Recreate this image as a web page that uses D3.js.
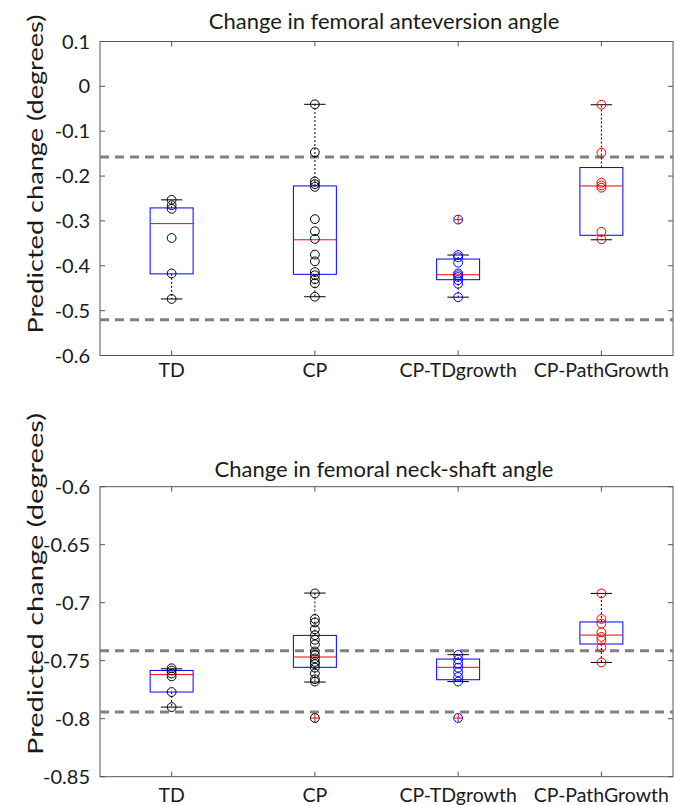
<!DOCTYPE html>
<html>
<head>
<meta charset="utf-8">
<script src="https://cdn.jsdelivr.net/npm/d3@7"></script>
<style>
  body { margin: 0; background: #fff; }
  svg { display: block; font-family: Lato, "Open Sans", sans-serif; }
</style>
</head>
<body>
<svg id="chart" width="675" height="805"></svg>
<script>
// categories
const categories = ["TD", "CP", "CP-TDgrowth", "CP-PathGrowth"];
const groupColors = ["#000000", "#000000", "#0000ff", "#ff0000"];

// --- femoral anteversion (top) ---
const antTD = [-0.253, -0.265, -0.273, -0.338, -0.417, -0.474];
const antCP = [-0.040, -0.147, -0.212, -0.218, -0.224, -0.296, -0.323, -0.340,
               -0.375, -0.390, -0.414, -0.421, -0.430, -0.439, -0.469];
const antTDg = [-0.297, -0.376, -0.381, -0.393, -0.417, -0.421, -0.425, -0.432, -0.440, -0.470];
const antPath = [-0.041, -0.148, -0.215, -0.221, -0.226, -0.324, -0.341];
const antQ1 = [-0.418, -0.419, -0.431, -0.332];
const antMed = [-0.306, -0.342, -0.420, -0.222];
const antQ3 = [-0.271, -0.222, -0.385, -0.181];
const antWhLo = [-0.474, -0.469, -0.470, -0.342];
const antWhHi = [-0.253, -0.040, -0.376, -0.041];
const antOutliers = [[], [], [-0.297], []];
const antRefLines = [-0.1576, -0.5205];
const antTicks = [0.1, 0, -0.1, -0.2, -0.3, -0.4, -0.5, -0.6];

// --- femoral neck-shaft (bottom) ---
const nsaTD = [-0.7565, -0.7585, -0.761, -0.7635, -0.777, -0.790];
const nsaCP = [-0.692, -0.714, -0.717, -0.723, -0.728, -0.732, -0.736, -0.742, -0.745,
               -0.748, -0.751, -0.753, -0.756, -0.761, -0.766, -0.768, -0.7994];
const nsaTDg = [-0.745, -0.749, -0.7525, -0.756, -0.760, -0.764, -0.768, -0.7994];
const nsaPath = [-0.692, -0.714, -0.718, -0.7255, -0.7295, -0.7325, -0.7385, -0.7515];
const nsaQ1 = [-0.777, -0.7557, -0.7664, -0.7356];
const nsaMed = [-0.762, -0.7468, -0.7557, -0.7279];
const nsaQ3 = [-0.7584, -0.7282, -0.7486, -0.7166];
const nsaWhLo = [-0.790, -0.7684, -0.768, -0.7515];
const nsaWhHi = [-0.757, -0.6917, -0.7448, -0.692];
const nsaOutliers = [[], [-0.7994], [-0.7994], []];
const nsaRefLines = [-0.7414, -0.7942];
const nsaTicks = [-0.6, -0.65, -0.7, -0.75, -0.8, -0.85];

const svg = d3.select("#chart");
const axisColor = "#555";
const textColor = "#1a1a1a";

function drawPanel(opt) {
  const g = svg.append("g");
  const x = d3.scaleLinear().domain([0.5, 4.5]).range([100, 673]);
  const y = d3.scaleLinear().domain(opt.domain).range(opt.range);
  const top = opt.range[1], bottom = opt.range[0];

  // title
  g.append("text")
    .attr("x", 384).attr("y", opt.titleY)
    .attr("text-anchor", "middle")
    .attr("font-size", 22)
    .attr("fill", textColor)
    .text(opt.title);

  // frame
  g.append("rect")
    .attr("x", 100).attr("y", top)
    .attr("width", 573).attr("height", bottom - top)
    .attr("fill", "none").attr("stroke", axisColor).attr("stroke-width", 1);

  // y ticks (inward, both sides)
  opt.ticks.forEach(t => {
    const ty = y(t);
    g.append("line").attr("x1", 100).attr("x2", 105).attr("y1", ty).attr("y2", ty)
      .attr("stroke", axisColor);
    g.append("line").attr("x1", 668).attr("x2", 673).attr("y1", ty).attr("y2", ty)
      .attr("stroke", axisColor);
    g.append("text")
      .attr("x", 90).attr("y", ty + 7)
      .attr("text-anchor", "end")
      .attr("font-size", 20)
      .attr("fill", textColor)
      .text(t === 0 ? "0" : String(t));
  });

  // x ticks and labels
  categories.forEach((c, i) => {
    const cx = x(i + 1);
    g.append("line").attr("x1", cx).attr("x2", cx).attr("y1", top).attr("y2", top + 5)
      .attr("stroke", axisColor);
    g.append("line").attr("x1", cx).attr("x2", cx).attr("y1", bottom).attr("y2", bottom - 5)
      .attr("stroke", axisColor);
    g.append("text")
      .attr("x", cx).attr("y", opt.labelY)
      .attr("text-anchor", "middle")
      .attr("font-size", 19.5)
      .attr("fill", textColor)
      .text(c);
  });

  // y label (long and narrow, as in the original figure)
  g.append("text")
    .attr("transform", `translate(${opt.ylabelX},${opt.ylabelY}) rotate(-90)`)
    .attr("text-anchor", "middle")
    .attr("font-size", 21.5)
    .attr("textLength", opt.ylabelLen)
    .attr("lengthAdjust", "spacingAndGlyphs")
    .attr("fill", textColor)
    .text("Predicted change (degrees)");

  // reference dashed lines
  opt.refLines.forEach(v => {
    g.append("line")
      .attr("x1", 100).attr("x2", 673)
      .attr("y1", y(v)).attr("y2", y(v))
      .attr("stroke", "#808080").attr("stroke-width", 3)
      .attr("stroke-dasharray", "9,6");
  });

  // boxes
  const halfBox = 0.15, halfCap = 0.075;
  categories.forEach((c, i) => {
    const pos = i + 1;
    // whiskers
    [[opt.q3[i], opt.whHi[i]], [opt.q1[i], opt.whLo[i]]].forEach(([a, b]) => {
      g.append("line")
        .attr("x1", x(pos)).attr("x2", x(pos))
        .attr("y1", y(a)).attr("y2", y(b))
        .attr("stroke", "#000").attr("stroke-width", 1)
        .attr("stroke-dasharray", "2,2");
    });
    [opt.whHi[i], opt.whLo[i]].forEach(v => {
      g.append("line")
        .attr("x1", x(pos - halfCap)).attr("x2", x(pos + halfCap))
        .attr("y1", y(v)).attr("y2", y(v))
        .attr("stroke", "#000").attr("stroke-width", 1);
    });
    g.append("rect")
      .attr("x", x(pos - halfBox)).attr("y", y(opt.q3[i]))
      .attr("width", x(pos + halfBox) - x(pos - halfBox))
      .attr("height", y(opt.q1[i]) - y(opt.q3[i]))
      .attr("fill", "none").attr("stroke", "#0000ff").attr("stroke-width", 1);
    g.append("line")
      .attr("x1", x(pos - halfBox)).attr("x2", x(pos + halfBox))
      .attr("y1", y(opt.med[i])).attr("y2", y(opt.med[i]))
      .attr("stroke", "#ff0000").attr("stroke-width", 1);
    // outliers: red plus
    opt.outliers[i].forEach(v => {
      g.append("path")
        .attr("d", `M${x(pos) - 4},${y(v)}h8M${x(pos)},${y(v) - 4}v8`)
        .attr("stroke", "#ff0000").attr("stroke-width", 1).attr("fill", "none");
    });
    // data points
    g.selectAll(null)
      .data(opt.points[i])
      .enter()
      .append("circle")
      .attr("cx", x(pos))
      .attr("cy", d => y(d))
      .attr("r", 4.4)
      .attr("fill", "none")
      .attr("stroke", groupColors[i])
      .attr("stroke-width", 1);
  });
}

drawPanel({
  title: "Change in femoral anteversion angle",
  titleY: 29,
  domain: [-0.6, 0.1], range: [355.5, 41.5],
  ticks: antTicks,
  labelY: 377,
  ylabelX: 43, ylabelY: 174, ylabelLen: 319,
  refLines: antRefLines,
  points: [antTD, antCP, antTDg, antPath],
  q1: antQ1, med: antMed, q3: antQ3, whLo: antWhLo, whHi: antWhHi,
  outliers: antOutliers
});

drawPanel({
  title: "Change in femoral neck-shaft angle",
  titleY: 477,
  domain: [-0.85, -0.6], range: [776.7, 486.7],
  ticks: nsaTicks,
  labelY: 802,
  ylabelX: 43, ylabelY: 584, ylabelLen: 342,
  refLines: nsaRefLines,
  points: [nsaTD, nsaCP, nsaTDg, nsaPath],
  q1: nsaQ1, med: nsaMed, q3: nsaQ3, whLo: nsaWhLo, whHi: nsaWhHi,
  outliers: nsaOutliers
});
</script>
</body>
</html>
